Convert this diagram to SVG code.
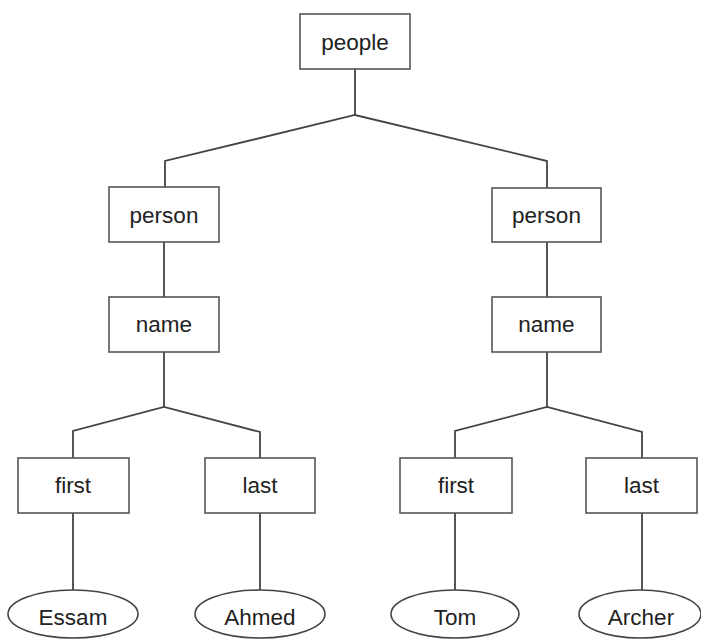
<svg xmlns="http://www.w3.org/2000/svg" width="701" height="641" viewBox="0 0 701 641">
<style>
.box{fill:#fff;stroke:#555;stroke-width:1.6}
.ell{fill:#fff;stroke:#444;stroke-width:1.6}
.lbl{font-family:"Liberation Sans",Arial,sans-serif;font-size:22.5px;fill:#222;text-anchor:middle}
.con{fill:none;stroke:#444;stroke-width:1.8}
</style>
<rect width="701" height="641" fill="#fff"/>
<g id="connectors">
<path class="con" d="M355 69V115M165 187V161L355 115L547 161V188"/>
<path class="con" d="M164 242V297M547 242V297"/>
<path class="con" d="M164 352V407M73 458V431L164 407L260 432V458"/>
<path class="con" d="M547 352V407M455 458V431L547 407L642 432V458"/>
<path class="con" d="M73 513V590M260 513V590M455 513V590M642 513V590"/>
</g>
<g id="people"><rect class="box" x="300" y="14" width="110" height="55"/><text class="lbl" x="355" y="49.5">people</text></g>
<g id="person1"><rect class="box" x="109" y="187" width="110" height="55"/><text class="lbl" x="164" y="223">person</text></g>
<g id="person2"><rect class="box" x="492" y="188" width="109" height="54"/><text class="lbl" x="546.5" y="223">person</text></g>
<g id="name1"><rect class="box" x="109" y="297" width="110" height="55"/><text class="lbl" x="164" y="332">name</text></g>
<g id="name2"><rect class="box" x="492" y="297" width="109" height="55"/><text class="lbl" x="546.5" y="332">name</text></g>
<g id="first1"><rect class="box" x="18" y="458" width="111" height="55"/><text class="lbl" x="73" y="493">first</text></g>
<g id="last1"><rect class="box" x="205" y="458" width="110" height="55"/><text class="lbl" x="260" y="493">last</text></g>
<g id="first2"><rect class="box" x="400" y="458" width="112" height="55"/><text class="lbl" x="456" y="493">first</text></g>
<g id="last2"><rect class="box" x="586" y="458" width="111" height="55"/><text class="lbl" x="641.5" y="493">last</text></g>
<g id="essam"><ellipse class="ell" cx="73" cy="614" rx="65" ry="24"/><text class="lbl" x="73" y="625">Essam</text></g>
<g id="ahmed"><ellipse class="ell" cx="260" cy="614" rx="65" ry="24"/><text class="lbl" x="260" y="625">Ahmed</text></g>
<g id="tom"><ellipse class="ell" cx="455" cy="614" rx="64" ry="24"/><text class="lbl" x="455" y="625">Tom</text></g>
<g id="archer"><ellipse class="ell" cx="640" cy="614" rx="61" ry="24"/><text class="lbl" x="641" y="625">Archer</text></g>
</svg>
